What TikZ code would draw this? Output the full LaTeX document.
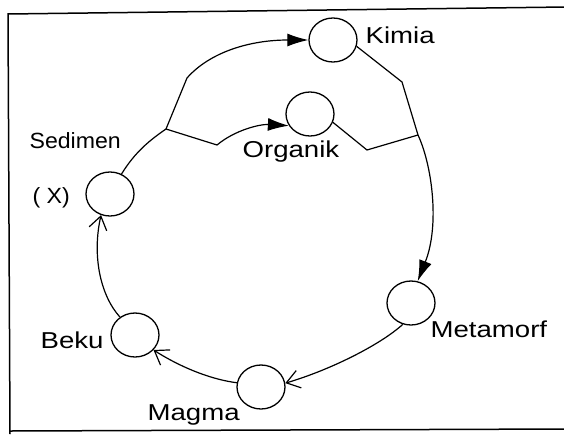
\documentclass[tikz,border=0pt]{standalone}
\usepackage{fontspec}
\usetikzlibrary{arrows.meta,shapes.geometric}
\newfontfamily\labfont[FakeStretch=1.2]{Liberation Sans}
\newfontfamily\labsfont[FakeStretch=1.05]{Liberation Sans}
\begin{document}
\begin{tikzpicture}[x=1pt,y=-1pt,
  line width=1.2pt,
  rock/.style={draw,ellipse,minimum width=48pt,minimum height=44pt,inner sep=0pt,line width=1.3pt},
  lbl/.style={anchor=base west,inner sep=0pt,font=\labfont\fontsize{23}{26}\selectfont},
  lbls/.style={anchor=base west,inner sep=0pt,font=\labsfont\fontsize{22}{26}\selectfont},
  filled/.style={-{Latex[length=21pt,width=13pt]}},
  barb/.style={-{Straight Barb[length=13pt,width=18pt,line width=1.2pt]}}]
\useasboundingbox (0,0) rectangle (564,434);
\fill[white] (0,0) rectangle (564,434);
% frame
\draw[line width=1.5pt] (10,434) -- (8,14) -- (566,7);
\draw[line width=1.5pt] (10,431) -- (566,429);
% circles
\node[rock] (kim) at (333,40) {};
\node[rock] (org) at (310,114) {};
\node[rock] (sed) at (110,194) {};
\node[rock] (met) at (411,303) {};
\node[rock] (mag) at (261,387) {};
\node[rock] (bek) at (135,335) {};
% labels
\node[lbl] (tkim) at (365,43) {Kimia};
\node[lbl] (torg) at (242,157) {Organik};
\node[lbls] (tsed) at (29,148) {Sedimen};
\node[lbls] (tx) at (32,203) {( X)};
\node[lbl] (tmet) at (430,337) {Metamorf};
\node[lbl] (tbek) at (40,348) {Beku};
\node[lbl] (tmag) at (147,420) {Magma};
% junction points
\coordinate (J) at (166,129);
\coordinate (P1) at (187,78);
\coordinate (P2) at (217,145);
\coordinate (R1) at (402,82);
\coordinate (R2) at (418,135);
\coordinate (Q1) at (367,150);
% sediment branches
\draw (sed.60) .. controls (135,152) and (150,140) .. (J);
\draw[filled] (J) -- (P1) .. controls (210,52) and (250,40) .. (kim.west);
\draw[filled] (J) -- (P2) .. controls (235,130) and (260,124) .. (org.209);
% to metamorf
\draw (kim.-15) -- (R1) -- (R2);
\draw (org.-20) -- (Q1) -- (R2);
\draw[filled] (R2) .. controls (432,165) and (440,225) .. (met.73);
% lower cycle
\draw[barb] (met.249) .. controls (380,345) and (330,370) .. (mag.9);
\draw[barb] (mag.170) .. controls (215,380) and (185,370) .. (bek.-39);
\draw[barb] (bek.130) .. controls (100,295) and (92,255) .. (sed.247);
\end{tikzpicture}
\end{document}
